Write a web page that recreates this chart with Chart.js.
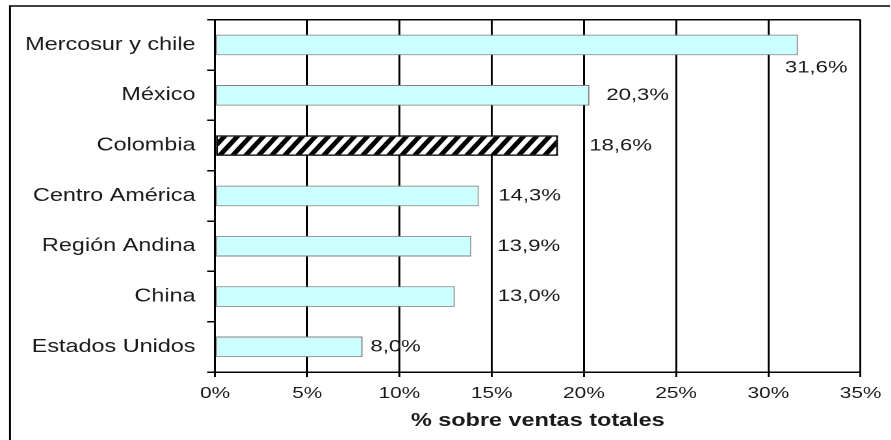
<!DOCTYPE html>
<html>
<head>
<meta charset="utf-8">
<script src="https://cdn.jsdelivr.net/npm/chart.js@4.4.1/dist/chart.umd.min.js"></script>
<style>
html, body { margin: 0; padding: 0; overflow: hidden; background: #fff; }
/* the original picture is stretched sideways, so the canvas is too */
#chart { display: block; width: 685px; height: 440px; transform: scaleX(1.3); transform-origin: 0 0; }
</style>
</head>
<body>
<canvas id="chart" width="685" height="440"></canvas>
<script>
const regions = ['Mercosur y chile', 'México', 'Colombia', 'Centro América', 'Región Andina', 'China', 'Estados Unidos'];
const shares = [31.6, 20.3, 18.6, 14.3, 13.9, 13.0, 8.0];
const xTicks = [0, 5, 10, 15, 20, 25, 30, 35];
const highlighted = 'Colombia';

// nudges for the value labels, as they sit in the original
const labelDx = [-10, 13, 24, 15, 20, 33, 6];
const labelDy = [23, 0, 0, 0, 0, 0, 0];

const FONT = '"Liberation Sans", Arial, sans-serif';
const TEXT = '#1a1a1a';

const canvas = document.getElementById('chart');
const ctx = canvas.getContext('2d');

function hatch() {
    const k = 2, w = 10, h = 14;
    const c = document.createElement('canvas');
    c.width = w * k;
    c.height = h * k;
    const g = c.getContext('2d');
    g.fillStyle = '#fff';
    g.fillRect(0, 0, c.width, c.height);
    g.strokeStyle = '#000';
    g.lineWidth = 4 * k;
    g.beginPath();
    for (const o of [-w, 0, w]) {
        g.moveTo((o - w) * k, 2 * h * k);
        g.lineTo((o + 2 * w) * k, -h * k);
    }
    g.stroke();
    const p = ctx.createPattern(c, 'repeat');
    p.setTransform(new DOMMatrix().scale(1 / k));
    return p;
}

const stripes = hatch();

const frame = {
    id: 'frame',
    beforeDraw(chart) {
        const c = chart.ctx;
        c.save();
        c.strokeStyle = '#000';
        c.lineWidth = 1.5;
        c.beginPath();
        c.moveTo(10 / 1.3, chart.height);
        c.lineTo(10 / 1.3, 6);
        c.lineTo(chart.width, 6);
        c.stroke();
        c.restore();
    },
    beforeDatasetsDraw(chart) {
        const a = chart.chartArea;
        const c = chart.ctx;
        c.save();
        c.strokeStyle = '#000';
        c.lineWidth = 1.5;
        c.beginPath();
        c.moveTo(a.left, a.top);
        c.lineTo(a.right, a.top);
        c.stroke();
        c.restore();
    }
};

const valueLabels = {
    id: 'valueLabels',
    afterDatasetsDraw(chart) {
        const c = chart.ctx;
        const meta = chart.getDatasetMeta(0);
        c.save();
        c.font = '17px ' + FONT;
        c.fillStyle = TEXT;
        c.textBaseline = 'middle';
        meta.data.forEach((bar, i) => {
            const txt = shares[i].toFixed(1).replace('.', ',') + '%';
            c.fillText(txt, bar.x + labelDx[i], bar.y + labelDy[i]);
        });
        c.restore();
    }
};

new Chart(ctx, {
    type: 'bar',
    data: {
        labels: regions,
        datasets: [{
            data: shares,
            backgroundColor: regions.map(r => r === highlighted ? stripes : '#ccffff'),
            borderColor: regions.map(r => r === highlighted ? '#000' : '#808080'),
            borderWidth: regions.map(r => r === highlighted ? 1.5 : 1),
            borderSkipped: false,
            barPercentage: 0.41,
            categoryPercentage: 1
        }]
    },
    options: {
        indexAxis: 'y',
        responsive: false,
        devicePixelRatio: 2,
        animation: false,
        layout: { padding: { top: 13, right: 19, left: 0, bottom: 0 } },
        plugins: {
            legend: { display: false },
            tooltip: { enabled: false }
        },
        scales: {
            x: {
                min: xTicks[0],
                max: xTicks[xTicks.length - 1],
                afterBuildTicks: s => { s.ticks = xTicks.map(v => ({ value: v })); },
                afterFit: s => { s.height = 68; },
                grid: { color: '#000', lineWidth: 1.5, tickLength: 5 },
                border: { color: '#000', width: 1.5 },
                ticks: {
                    color: TEXT,
                    font: { family: FONT, size: 16 },
                    padding: 7,
                    maxRotation: 0,
                    callback: v => v + '%'
                },
                title: {
                    display: true,
                    text: '% sobre ventas totales',
                    color: TEXT,
                    font: { family: FONT, size: 18, weight: 'bold' },
                    padding: { top: 0, bottom: 8 }
                }
            },
            y: {
                afterFit: s => { s.width = 215 / 1.3; },
                grid: {
                    drawOnChartArea: false,
                    tickLength: 6,
                    tickColor: '#000',
                    lineWidth: 1.5
                },
                border: { color: '#000', width: 1.5 },
                ticks: {
                    color: TEXT,
                    font: { family: FONT, size: 18 },
                    padding: 9
                }
            }
        }
    },
    plugins: [frame, valueLabels]
});
</script>
</body>
</html>
